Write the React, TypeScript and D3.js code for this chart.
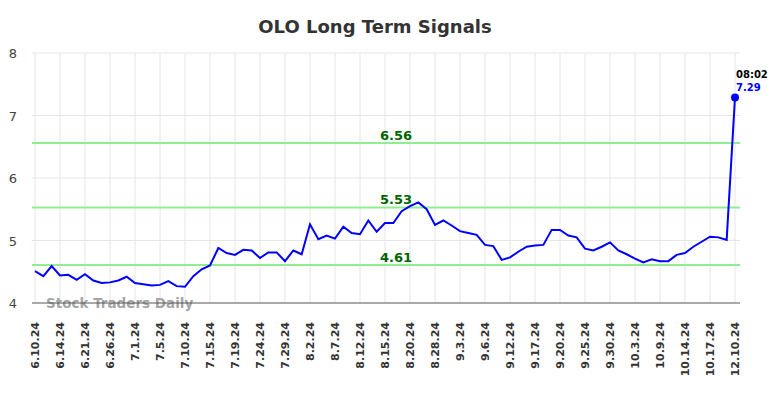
import React, { useEffect, useRef } from 'react';
import * as d3 from 'd3';

// chart data
const tickLabels = [
  '6.10.24', '6.14.24', '6.21.24', '6.26.24', '7.1.24', '7.5.24', '7.10.24', '7.15.24',
  '7.19.24', '7.24.24', '7.29.24', '8.2.24', '8.7.24', '8.12.24', '8.15.24', '8.20.24',
  '8.28.24', '9.3.24', '9.6.24', '9.12.24', '9.17.24', '9.20.24', '9.25.24', '9.30.24',
  '10.3.24', '10.9.24', '10.14.24', '10.17.24', '12.10.24',
];
const prices = [
  4.51, 4.43, 4.59, 4.44, 4.45, 4.37, 4.46, 4.36, 4.32, 4.33,
  4.36, 4.42, 4.32, 4.30, 4.28, 4.29, 4.35, 4.27, 4.26, 4.43,
  4.54, 4.60, 4.88, 4.80, 4.77, 4.85, 4.84, 4.72, 4.81, 4.81,
  4.67, 4.84, 4.78, 5.26, 5.02, 5.08, 5.03, 5.22, 5.12, 5.10,
  5.32, 5.14, 5.28, 5.28, 5.47, 5.55, 5.61, 5.50, 5.25, 5.32,
  5.24, 5.15, 5.12, 5.09, 4.93, 4.91, 4.69, 4.73, 4.82, 4.90,
  4.92, 4.93, 5.17, 5.17, 5.08, 5.05, 4.87, 4.84, 4.90, 4.97,
  4.84, 4.78, 4.71, 4.65, 4.70, 4.67, 4.67, 4.77, 4.80, 4.90,
  4.98, 5.06, 5.05, 5.01, 7.29,
];
const signalLevels = [6.56, 5.53, 4.61];
const yTicks = [4, 5, 6, 7, 8];
const lastTime = '08:02';
const labelStep = 3;

const App = () => {
  const ref = useRef<SVGSVGElement | null>(null);

  useEffect(() => {
    const svg = d3.select(ref.current);
    svg.selectAll('*').remove();

    const width = 784;
    const height = 398;
    const font = '"DejaVu Sans", sans-serif';

    const x = d3.scaleLinear().domain([0, prices.length - 1]).range([35, 735]);
    const y = d3.scaleLinear().domain([4, 8]).range([303, 53]);
    const gridLeft = 32;
    const gridRight = 740;

    svg.attr('width', width).attr('height', height);

    svg
      .append('text')
      .attr('x', 375)
      .attr('y', 33)
      .attr('text-anchor', 'middle')
      .attr('font-family', font)
      .attr('font-size', 18)
      .attr('font-weight', 'bold')
      .attr('fill', '#333')
      .text('OLO Long Term Signals');

    const tickIdx = tickLabels.map((_, i) => i * labelStep);

    // grid
    svg
      .append('g')
      .selectAll('line')
      .data(tickIdx)
      .join('line')
      .attr('x1', (d) => x(d))
      .attr('x2', (d) => x(d))
      .attr('y1', y(8))
      .attr('y2', y(4))
      .attr('stroke', '#e6e6e6')
      .attr('stroke-width', 1);

    svg
      .append('g')
      .selectAll('line')
      .data(yTicks.filter((d) => d !== 4))
      .join('line')
      .attr('x1', gridLeft)
      .attr('x2', gridRight)
      .attr('y1', (d) => y(d))
      .attr('y2', (d) => y(d))
      .attr('stroke', '#e6e6e6')
      .attr('stroke-width', 1);

    // y labels
    svg
      .append('g')
      .selectAll('text')
      .data(yTicks)
      .join('text')
      .attr('x', 17)
      .attr('y', (d) => y(d) + 5)
      .attr('text-anchor', 'end')
      .attr('font-family', font)
      .attr('font-size', 13)
      .attr('fill', '#444')
      .text((d) => d);

    // x labels
    svg
      .append('g')
      .selectAll('text')
      .data(tickLabels)
      .join('text')
      .attr('transform', (_, i) => `translate(${x(i * labelStep) + 4},322) rotate(-90)`)
      .attr('text-anchor', 'end')
      .attr('font-family', font)
      .attr('font-size', 11)
      .attr('font-weight', 'bold')
      .attr('fill', '#333')
      .text((d) => d);

    // signal lines
    signalLevels.forEach((lvl) => {
      svg
        .append('line')
        .attr('x1', gridLeft)
        .attr('x2', gridRight)
        .attr('y1', y(lvl))
        .attr('y2', y(lvl))
        .attr('stroke', '#90ee90')
        .attr('stroke-width', 2);
      svg
        .append('text')
        .attr('x', 396)
        .attr('y', y(lvl) - 3)
        .attr('text-anchor', 'middle')
        .attr('font-family', font)
        .attr('font-size', 13)
        .attr('font-weight', 'bold')
        .attr('fill', '#006400')
        .text(lvl.toFixed(2));
    });

    // watermark
    svg
      .append('text')
      .attr('x', 46)
      .attr('y', 308)
      .attr('font-family', font)
      .attr('font-size', 13.5)
      .attr('font-weight', 'bold')
      .attr('fill', '#999')
      .attr('fill-opacity', 0.9)
      .text('Stock Traders Daily');

    // axis line
    svg
      .append('line')
      .attr('x1', gridLeft)
      .attr('x2', gridRight)
      .attr('y1', y(4))
      .attr('y2', y(4))
      .attr('stroke', '#555')
      .attr('stroke-width', 1);

    // price line
    const line = d3
      .line<number>()
      .x((_, i) => x(i))
      .y((d) => y(d));

    svg
      .append('path')
      .datum(prices)
      .attr('d', line)
      .attr('fill', 'none')
      .attr('stroke', '#0000ff')
      .attr('stroke-width', 2);

    const lastI = prices.length - 1;
    const last = prices[lastI];
    svg
      .append('circle')
      .attr('cx', x(lastI))
      .attr('cy', y(last))
      .attr('r', 4)
      .attr('fill', '#0000ff');

    svg
      .append('text')
      .attr('x', x(lastI) + 1)
      .attr('y', y(last) - 19)
      .attr('font-family', font)
      .attr('font-size', 10)
      .attr('font-weight', 'bold')
      .attr('fill', '#000')
      .text(lastTime);

    svg
      .append('text')
      .attr('x', x(lastI) + 1)
      .attr('y', y(last) - 6)
      .attr('font-family', font)
      .attr('font-size', 10)
      .attr('font-weight', 'bold')
      .attr('fill', '#0000ff')
      .text(last.toFixed(2));
  }, []);

  return <svg ref={ref} style={{ position: 'absolute', left: 0, top: 0 }} />;
};

export default App;
